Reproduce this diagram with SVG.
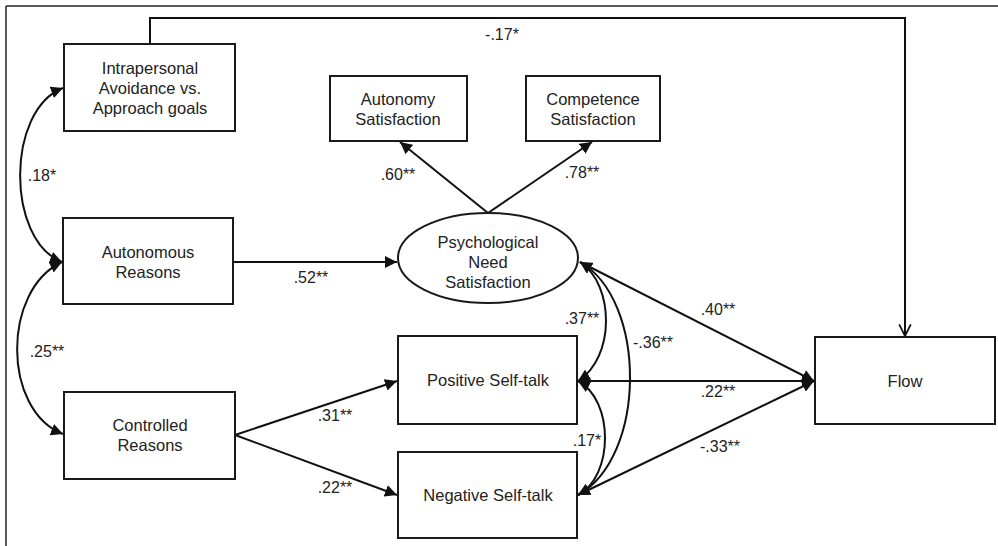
<svg xmlns="http://www.w3.org/2000/svg" width="998" height="546" viewBox="0 0 998 546">
<style>
.box{fill:#fff;stroke:#1a1a1a;stroke-width:2}
.t{font-family:"Liberation Sans",Arial,sans-serif;font-size:16.5px;fill:#222;text-anchor:middle}
.l{font-family:"Liberation Sans",Arial,sans-serif;font-size:16px;fill:#222;text-anchor:middle}
.c{fill:none;stroke:#111;stroke-width:2}
</style>
<defs>
<marker id="ah" viewBox="0 0 10 10" refX="10" refY="5" markerWidth="6" markerHeight="6" orient="auto-start-reverse" markerUnits="strokeWidth">
<path d="M0,0 L10,5 L0,10 z" fill="#111"/>
</marker>
<marker id="open" viewBox="0 0 12 12" refX="11" refY="6" markerWidth="7" markerHeight="7" orient="auto" markerUnits="strokeWidth">
<path d="M1,1 L11,6 L1,11" fill="none" stroke="#111" stroke-width="1.5"/>
</marker>
</defs>
<rect width="998" height="546" fill="#fff"/>
<g id="frame">
<line x1="6" y1="6" x2="998" y2="6" stroke="#222" stroke-width="1.5"/>
<line x1="6" y1="6" x2="6" y2="546" stroke="#222" stroke-width="1.5"/>
</g>
<g id="connectors">
<path class="c" d="M150 44 V18 H905 V336" marker-end="url(#open)"/>
<path class="c" d="M488 213 L400 142" marker-end="url(#ah)"/>
<path class="c" d="M488 213 L592 142" marker-end="url(#ah)"/>
<path class="c" d="M233 262 L397 262" marker-end="url(#ah)"/>
<path class="c" d="M235 435 L397 381" marker-end="url(#ah)"/>
<path class="c" d="M235 435 L397 495" marker-end="url(#ah)"/>
<path class="c" d="M580 262 L814 381" marker-end="url(#ah)"/>
<path class="c" d="M578 381 L814 381" marker-end="url(#ah)"/>
<path class="c" d="M578 495 L814 381" marker-end="url(#ah)"/>
<path class="c" d="M63 88 C6 110,6 240,62 262" marker-start="url(#ah)" marker-end="url(#ah)"/>
<path class="c" d="M62 262 C2 290,2 410,63 434" marker-start="url(#ah)" marker-end="url(#ah)"/>
<path class="c" d="M580 262 C615 285,615 358,578 381" marker-start="url(#ah)" marker-end="url(#ah)"/>
<path class="c" d="M580 262 C647 300,647 457,578 495" marker-start="url(#ah)" marker-end="url(#ah)"/>
<path class="c" d="M578 381 C614 400,614 476,578 495" marker-start="url(#ah)" marker-end="url(#ah)"/>
</g>
<g id="labels">
<text class="l" x="502" y="40">-.17*</text>
<text class="l" x="42" y="181">.18*</text>
<text class="l" x="47" y="357">.25**</text>
<text class="l" x="311" y="283">.52**</text>
<text class="l" x="398" y="180">.60**</text>
<text class="l" x="582" y="178">.78**</text>
<text class="l" x="335" y="421">.31**</text>
<text class="l" x="335" y="493">.22**</text>
<text class="l" x="718" y="315">.40**</text>
<text class="l" x="718" y="397">.22**</text>
<text class="l" x="720" y="452">-.33**</text>
<text class="l" x="582" y="324">.37**</text>
<text class="l" x="653" y="348">-.36**</text>
<text class="l" x="587" y="446">.17*</text>
</g>
<g id="intrapersonal">
<rect class="box" x="64" y="44" width="171" height="87"/>
<text class="t" x="150" y="74">Intrapersonal</text>
<text class="t" x="150" y="94">Avoidance vs.</text>
<text class="t" x="150" y="114">Approach goals</text>
</g>
<g id="autonomy">
<rect class="box" x="330" y="76" width="137" height="65"/>
<text class="t" x="398" y="105">Autonomy</text>
<text class="t" x="398" y="125">Satisfaction</text>
</g>
<g id="competence">
<rect class="box" x="526" y="76" width="134" height="65"/>
<text class="t" x="593" y="105">Competence</text>
<text class="t" x="593" y="125">Satisfaction</text>
</g>
<g id="pns">
<ellipse cx="488" cy="258" rx="90" ry="45" fill="#fff" stroke="#1a1a1a" stroke-width="2"/>
<text class="t" x="488" y="248">Psychological</text>
<text class="t" x="488" y="268">Need</text>
<text class="t" x="488" y="288">Satisfaction</text>
</g>
<g id="autonomous">
<rect class="box" x="63" y="218" width="170" height="86"/>
<text class="t" x="148" y="258">Autonomous</text>
<text class="t" x="148" y="278">Reasons</text>
</g>
<g id="controlled">
<rect class="box" x="64" y="392" width="171" height="87"/>
<text class="t" x="150" y="431">Controlled</text>
<text class="t" x="150" y="451">Reasons</text>
</g>
<g id="positive">
<rect class="box" x="398" y="336" width="179" height="88"/>
<text class="t" x="488" y="386">Positive Self-talk</text>
</g>
<g id="negative">
<rect class="box" x="398" y="452" width="179" height="86"/>
<text class="t" x="488" y="501">Negative Self-talk</text>
</g>
<g id="flow">
<rect class="box" x="815" y="337" width="180" height="87"/>
<text class="t" x="905" y="387">Flow</text>
</g>
</svg>
